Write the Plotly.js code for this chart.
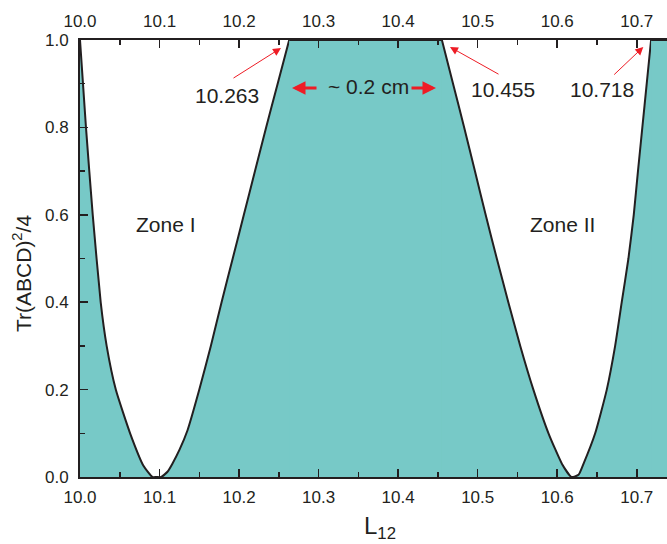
<!DOCTYPE html>
<html>
<head>
<meta charset="utf-8">
<script src="https://cdn.plot.ly/plotly-3.0.1.min.js"></script>
<style>html,body{margin:0;padding:0;background:#fff;}</style>
</head>
<body>
<div id="chart" style="width:667px;height:544px;"></div>
<script>
// Curve: Tr(ABCD)^2/4 vs L12 (values capped at 1 where the curve leaves the plot)
const L12 = [10.000, 10.0075, 10.016, 10.026, 10.0335, 10.045, 10.063, 10.080, 10.091, 10.096, 10.1021, 10.110,
  10.116, 10.125, 10.1352, 10.150, 10.1645, 10.178, 10.192, 10.206, 10.220, 10.234, 10.2485, 10.263,
  10.455, 10.469, 10.483, 10.4965, 10.510, 10.524, 10.5385, 10.5535, 10.570, 10.589, 10.606, 10.618,
  10.6268, 10.6330, 10.6477, 10.6623, 10.6728, 10.6811, 10.6895, 10.6962, 10.7015, 10.707, 10.7125, 10.718, 10.738];
const trace = [1.0, 0.8, 0.6, 0.4, 0.3, 0.2, 0.1, 0.025, 0.0, 0.0, 0.0, 0.012,
  0.03, 0.062, 0.107, 0.2, 0.3, 0.4, 0.5, 0.6, 0.7, 0.8, 0.9, 1.0,
  1.0, 0.9, 0.8, 0.7, 0.6, 0.5, 0.4, 0.3, 0.2, 0.1, 0.03, 0.0,
  0.005, 0.03, 0.1, 0.2, 0.3, 0.4, 0.5, 0.6, 0.7, 0.8, 0.9, 1.0, 1.0];
const xTickVals = [10.0, 10.1, 10.2, 10.3, 10.4, 10.5, 10.6, 10.7];
const xTickText = ['10.0', '10.1', '10.2', '10.3', '10.4', '10.5', '10.6', '10.7'];
const yTickVals = [0.0, 0.2, 0.4, 0.6, 0.8, 1.0];
const yTickText = ['0.0', '0.2', '0.4', '0.6', '0.8', '1.0'];
const markedL = [10.263, 10.455, 10.718];
const zoneLabels = ['Zone I', 'Zone II'];

const ink = '#231F20';
const red = '#EE1C25';
const teal = '#77C9C7';
const font = 'Arial, "Liberation Sans", Helvetica, sans-serif';
const X0 = 80, X1 = 667, Y0 = 40, Y1 = 477;
const xR = [10.0, 10.738];
function px2x(p) { return xR[0] + (p - X0) / (X1 - X0) * (xR[1] - xR[0]); }
function py2y(p) { return (Y1 - p) / (Y1 - Y0); }

// base fill (no outline) underneath, to avoid seams between segments
const data = [{x: L12, y: trace, type: 'scatter', mode: 'lines', fill: 'tozeroy', fillcolor: teal,
  line: {width: 0, color: teal}, hoverinfo: 'skip', showlegend: false}];

// split the curve at the points where it touches the top (y = 1) so corners stay sharp
const cuts = [0];
for (let i = 1; i < trace.length - 1; i++) {
  if (trace[i] === 1 && (trace[i - 1] === 1 || trace[i + 1] === 1)) cuts.push(i);
}
cuts.push(trace.length - 1);
const uniq = [...new Set(cuts)].sort((a, b) => a - b);
for (let k = 0; k < uniq.length - 1; k++) {
  const a = uniq[k], b = uniq[k + 1];
  const xs = L12.slice(a, b + 1), ys = trace.slice(a, b + 1);
  const flat = ys.every(v => v === 1);
  data.push({x: xs, y: ys, type: 'scatter', mode: 'lines', fill: 'tozeroy', fillcolor: teal,
    line: {color: ink, width: 2, shape: flat ? 'linear' : 'spline', smoothing: 0.5},
    hoverinfo: 'skip', showlegend: false});
}
data.push({x: L12, y: trace, type: 'scatter', mode: 'lines', xaxis: 'x2', line: {width: 0},
  opacity: 0, hoverinfo: 'skip', showlegend: false});

const axCommon = {
  range: xR, tickvals: xTickVals, ticktext: xTickText, ticks: 'inside', ticklen: 8, tickwidth: 1.5,
  tickcolor: ink, showline: true, linecolor: ink, linewidth: 2, showgrid: false, zeroline: false,
  tickfont: {family: font, size: 17, color: ink},
  minor: {tickvals: [10.05, 10.15, 10.25, 10.35, 10.45, 10.55, 10.65], ticks: 'inside', ticklen: 5, tickwidth: 1.5, tickcolor: ink, showgrid: false}
};

const annotations = [];
function arrow(hx, hy, tx, ty, w, size) {
  annotations.push({x: px2x(hx), y: py2y(hy), xref: 'x', yref: 'y', ax: tx - hx, ay: ty - hy,
    axref: 'pixel', ayref: 'pixel', text: '', showarrow: true, arrowhead: 2, arrowsize: size,
    arrowwidth: w, arrowcolor: red, standoff: 0, startstandoff: 0});
}
function label(text, cx, cy, size) {
  annotations.push({x: px2x(cx), y: py2y(cy), xref: 'x', yref: 'y', text: text, showarrow: false,
    xanchor: 'center', yanchor: 'middle', font: {family: font, size: size, color: ink}});
}
arrow(281, 48, 232, 79, 1, 1.6);
arrow(450, 47, 500, 75, 1, 1.6);
arrow(643.3, 47, 612.7, 76, 1, 1.6);
arrow(292, 88, 318, 88, 3, 0.9);
arrow(436, 88, 410, 88, 3, 0.9);
label(markedL[0].toFixed(3), 227, 95, 21);
label(markedL[1].toFixed(3), 503, 89, 21);
label(markedL[2].toFixed(3), 602, 89, 21);
label('~ 0.2 cm', 368, 86, 21);
label(zoneLabels[0], 166, 224, 21);
label(zoneLabels[1], 562, 224, 21);
// axis titles
annotations.push({x: 22 / 667, y: 1 - 274 / 544, xref: 'paper', yref: 'paper', text: 'Tr(ABCD)<sup>2</sup>/4',
  textangle: -90, showarrow: false, xanchor: 'center', yanchor: 'middle', font: {family: font, size: 21, color: ink}});
annotations.push({x: 380 / 667, y: 1 - 527 / 544, xref: 'paper', yref: 'paper', text: 'L<sub>12</sub>',
  showarrow: false, xanchor: 'center', yanchor: 'middle', font: {family: font, size: 24, color: ink}});

// convert paper annotations (computed in full-page fractions) into plot-paper fractions
annotations.forEach(a => {
  if (a.xref === 'paper') {
    const pxX = a.x * 667, pxY = (1 - a.y) * 544;
    a.x = (pxX - X0) / (X1 - X0);
    a.y = (Y1 - pxY) / (Y1 - Y0);
  }
});

const layout = {
  width: 667, height: 544,
  margin: {l: X0, r: 667 - X1, t: Y0, b: 544 - Y1, pad: 0},
  paper_bgcolor: '#fff', plot_bgcolor: '#fff',
  showlegend: false,
  xaxis: Object.assign({}, axCommon, {side: 'bottom', ticklabelstandoff: 4}),
  xaxis2: Object.assign({}, axCommon, {side: 'top', overlaying: 'x', anchor: 'y', ticklabelstandoff: 4}),
  yaxis: {range: [0, 1], tickvals: yTickVals, ticktext: yTickText, ticks: 'inside', ticklen: 8, tickwidth: 1.5,
    tickcolor: ink, showline: true, linecolor: ink, linewidth: 2, showgrid: false, zeroline: false,
    tickfont: {family: font, size: 17, color: ink}, ticklabelstandoff: 6,
    minor: {tickvals: [0.1, 0.3, 0.5, 0.7, 0.9], ticks: 'inside', ticklen: 5, tickwidth: 1.5, tickcolor: ink, showgrid: false}},
  annotations: annotations
};

Plotly.newPlot('chart', data, layout, {staticPlot: true, displayModeBar: false});
</script>
</body>
</html>
